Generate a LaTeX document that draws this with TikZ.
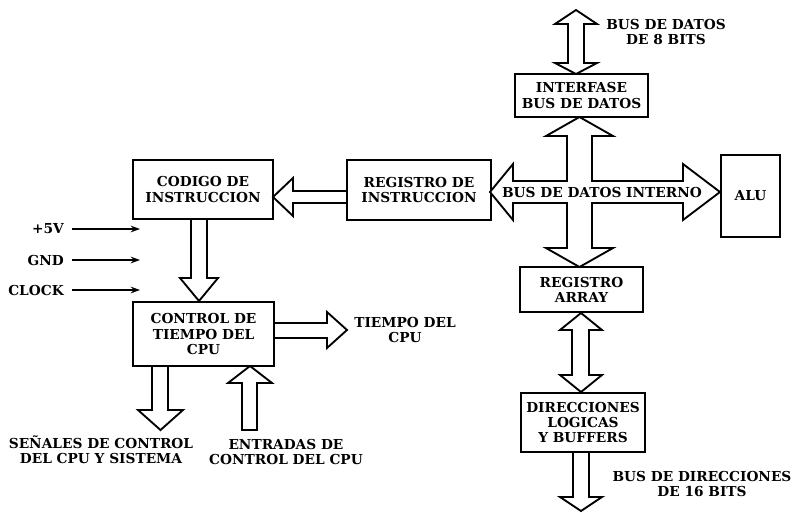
\documentclass[tikz,border=0pt]{standalone}
\usepackage{fontspec}
\setmainfont{DejaVu Serif}
\usetikzlibrary{arrows.meta}
\begin{document}
\begin{tikzpicture}[x=0.75pt,y=-0.75pt,line join=miter]
\tikzset{
  txt/.style={font=\fontsize{10.3}{11.3}\selectfont\bfseries, align=center, inner sep=0pt},
  blk/.style={txt, draw, line width=1.5pt},
  hol/.style={draw, line width=1.4pt, fill=white},
  thin/.style={line width=1.1pt, -{Stealth[length=7pt,width=5pt]}}
}
\useasboundingbox (0,0) rectangle (794,512);

% boxes
\node[blk, minimum width=105pt, minimum height=44.25pt] (codigo) at (203,189.5) {CODIGO DE\\INSTRUCCION};
\node[blk, minimum width=108pt, minimum height=45pt] (regins) at (419,190) {REGISTRO DE\\INSTRUCCION};
\node[blk, minimum width=105.75pt, minimum height=48pt] (control) at (203.5,334) {CONTROL DE\\TIEMPO DEL\\CPU};
\node[blk, minimum width=99.75pt, minimum height=32.25pt] (interf) at (581.5,95.5) {INTERFASE\\BUS DE DATOS};
\node[blk, minimum width=44.25pt, minimum height=61.5pt] (alu) at (750.5,196) {ALU};
\node[blk, minimum width=92.25pt, minimum height=33.75pt] (regarr) at (581.5,289.5) {REGISTRO\\ARRAY};
\node[blk, minimum width=93pt, minimum height=44.25pt] (direc) at (583,422.5) {DIRECCIONES\\LOGICAS\\Y BUFFERS};

% hollow arrows
\draw[hol] (576,10) -- (597,24) -- (584,24) -- (584,63) -- (597,63) -- (576,74) -- (555,63) -- (568,63) -- (568,24) -- (555,24) -- cycle;
\draw[hol] (579.5,117) -- (613,136) -- (592,136) -- (592,181) -- (683,181) -- (683,164) -- (720,192) -- (683,220) -- (683,203) -- (592,203) -- (592,248) -- (613,248) -- (579.5,267) -- (546,248) -- (567,248) -- (567,203) -- (513,203) -- (513,220) -- (490,192) -- (513,164) -- (513,181) -- (567,181) -- (567,136) -- (546,136) -- cycle;
\draw[hol] (347,191) -- (293,191) -- (293,178) -- (273,197) -- (293,216) -- (293,203) -- (347,203) -- cycle;
\draw[hol] (191,219) -- (191,278) -- (180,278) -- (199,301) -- (218,278) -- (207,278) -- (207,219) -- cycle;
\draw[hol] (274,323) -- (327,323) -- (327,312) -- (347,330) -- (327,348) -- (327,338) -- (274,338) -- cycle;
\draw[hol] (152,366) -- (152,410) -- (138,410) -- (160.5,430) -- (183,410) -- (168,410) -- (168,366) -- cycle;
\draw[hol] (242,430) -- (242,383) -- (228,383) -- (250,366) -- (272,383) -- (257,383) -- (257,430) -- cycle;
\draw[hol] (581,313) -- (602,330) -- (589,330) -- (589,375) -- (602,375) -- (581,392) -- (560,375) -- (572,375) -- (572,330) -- (560,330) -- cycle;
\draw[hol] (573,452) -- (573,497) -- (560,497) -- (581,511) -- (602,497) -- (589,497) -- (589,452) -- cycle;

\node[txt] (busint) at (602,192) {BUS DE DATOS INTERNO};

% power / clock inputs
\node[txt, anchor=east] (v5) at (64,229) {+5V};
\node[txt, anchor=east] (gnd) at (64,260) {GND};
\node[txt, anchor=east] (clk) at (64,290) {CLOCK};
\coordinate (v5e) at (140,229);
\coordinate (gnde) at (140,260);
\coordinate (clke) at (140,290);
\draw[thin] (v5.east) ++(8,0) -- (v5e);
\draw[thin] (gnd.east) ++(8,0) -- (gnde);
\draw[thin] (clk.east) ++(8,0) -- (clke);

% labels
\node[txt] (bus8) at (666,32) {BUS DE DATOS\\DE 8 BITS};
\node[txt] (tcpu) at (405,330) {TIEMPO DEL\\CPU};
\node[txt] (senal) at (101,450) {SEÑALES DE CONTROL\\DEL CPU Y SISTEMA};
\node[txt] (entr) at (286,452) {ENTRADAS DE\\CONTROL DEL CPU};
\node[txt] (bus16) at (702,484) {BUS DE DIRECCIONES\\DE 16 BITS};
\end{tikzpicture}
\end{document}
